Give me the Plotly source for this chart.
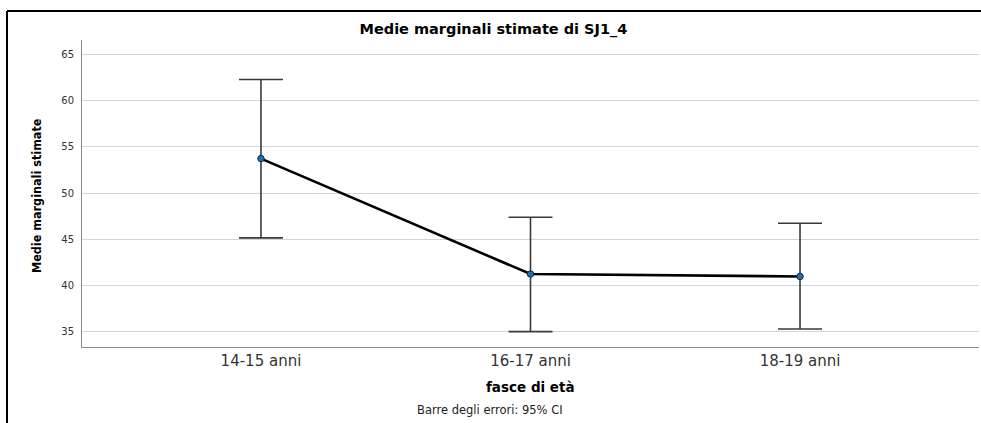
import plotly.graph_objects as go

categories = ["14-15 anni", "16-17 anni", "18-19 anni"]
means = [53.74, 41.24, 40.98]
ci_upper = [62.31, 47.39, 46.74]
ci_lower = [45.15, 35.0, 35.29]
y_ticks = [35, 40, 45, 50, 55, 60, 65]

err_plus = [u - m for u, m in zip(ci_upper, means)]
err_minus = [m - l for m, l in zip(means, ci_lower)]

fig = go.Figure()
fig.add_trace(go.Scatter(
    x=[0, 1, 2], y=means, mode="lines+markers",
    line=dict(color="black", width=2.6),
    marker=dict(color="#1f6fb4", size=6.5, line=dict(color="#0d2a45", width=1)),
    error_y=dict(type="data", array=err_plus, arrayminus=err_minus, symmetric=False,
                 color="#3a3a3a", thickness=1.6, width=22),
    showlegend=False, hoverinfo="skip",
))

font_main = "DejaVu Sans, Liberation Sans, Arial, sans-serif"

fig.update_layout(
    width=981, height=423,
    margin=dict(l=82, r=2, t=40, b=76),
    paper_bgcolor="white", plot_bgcolor="white",
    title=dict(text="<b>Medie marginali stimate di SJ1_4</b>", x=0.503, xref="container",
               xanchor="center", y=1 - 29 / 423, yref="container", yanchor="middle",
               font=dict(family=font_main, size=14.5, color="black")),
    xaxis=dict(
        tickmode="array", tickvals=[0, 1, 2], ticktext=categories,
        range=[-0.664, 2.664], showgrid=False, zeroline=False,
        showline=True, linecolor="#8a8a8a", linewidth=1,
        ticks="", tickfont=dict(family=font_main, size=15, color="#333333"),
    ),
    yaxis=dict(
        tickmode="array", tickvals=y_ticks, ticktext=[str(v) for v in y_ticks],
        range=[33.34, 66.58], showgrid=True, gridcolor="#d4d4d4", gridwidth=1,
        zeroline=False, showline=True, linecolor="#8a8a8a", linewidth=1,
        ticks="", ticklabelstandoff=5,
        tickfont=dict(family=font_main, size=10, color="#333333"),
    ),
    annotations=[
        dict(text="<b>fasce di età</b>", xref="paper", yref="paper", x=0.5,
             y=(347 - 387) / 307, xanchor="center", yanchor="middle", showarrow=False,
             font=dict(family=font_main, size=13.5, color="black")),
        dict(text="Barre degli errori: 95% CI", xref="paper", yref="paper",
             x=(490 - 82) / 897, y=(347 - 410) / 307, xanchor="center", yanchor="middle",
             showarrow=False, font=dict(family=font_main, size=11.5, color="#222222")),
        dict(text="<b>Medie marginali stimate</b>", xref="paper", yref="paper",
             x=(36 - 82) / 897, y=(347 - 196) / 307, xanchor="center", yanchor="middle",
             textangle=-90, showarrow=False,
             font=dict(family="Liberation Sans Narrow, DejaVu Sans Condensed, sans-serif",
                       size=12.5, color="black")),
    ],
    shapes=[
        dict(type="line", xref="paper", yref="paper", x0=(7 - 82) / 897, x1=(982 - 82) / 897,
             y0=(347 - 11) / 307, y1=(347 - 11) / 307, line=dict(color="black", width=2)),
        dict(type="line", xref="paper", yref="paper", x0=(7 - 82) / 897, x1=(7 - 82) / 897,
             y0=(347 - 11) / 307, y1=(347 - 424) / 307, line=dict(color="black", width=2)),
    ],
)

fig.write_html("out.html")
